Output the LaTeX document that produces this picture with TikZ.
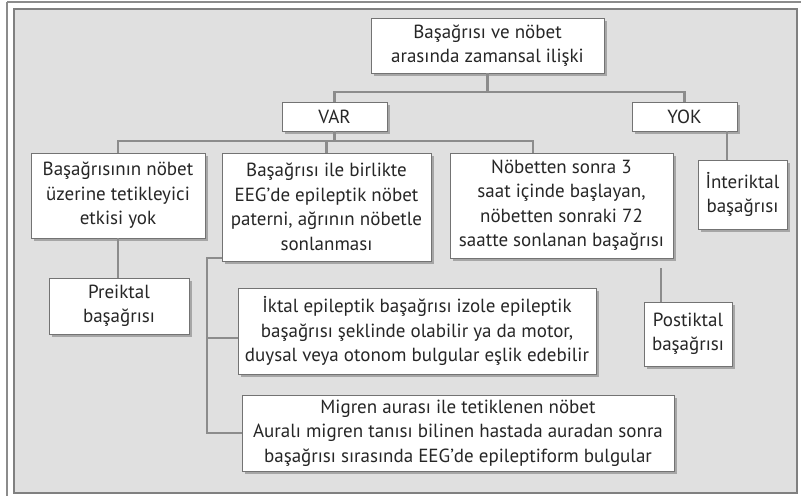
\documentclass[tikz,border=0pt]{standalone}
\usepackage{fontspec}
\setmainfont{PT Sans}
\usetikzlibrary{shadows}
\begin{document}
\begin{tikzpicture}[x=1pt,y=-1pt,
  every node/.style={font=\fontsize{19}{24.5}\selectfont,text=black!85},
  box/.style={draw=black!55,line width=0.8pt,fill=white,align=center,inner sep=0pt,
    drop shadow={shadow xshift=3pt,shadow yshift=-3pt,fill=black!35,opacity=1}},
  link/.style={draw=black!45,line width=2.4pt}]
% frame and background
\useasboundingbox (0,0) rectangle (801,496);
\draw[black!45,line width=2pt] (7,2) -- (801,2);
\draw[black!45,line width=2pt] (7,2) -- (7,496);
\draw[black!50,fill=black!12,line width=1.6pt] (14,9) rectangle (797,493);

% boxes
\node[box,minimum width=233,minimum height=55] (top) at (487.5,45.5) {Başağrısı ve nöbet\\arasında zamansal ilişki};
\node[box,minimum width=105,minimum height=29] (var) at (334.5,116.5) {VAR};
\node[box,minimum width=105,minimum height=29] (yok) at (684.5,116.5) {YOK};
\node[box,minimum width=174,minimum height=85] (b1) at (118,195.5) {Başağrısının nöbet\\üzerine tetikleyici\\etkisi yok};
\node[box,minimum width=209,minimum height=108] (b2) at (326.5,207) {Başağrısı ile birlikte\\EEG’de epileptik nöbet\\paterni, ağrının nöbetle\\sonlanması};
\node[box,minimum width=223,minimum height=105] (b3) at (561.5,205.5) {Nöbetten sonra 3\\saat içinde başlayan,\\nöbetten sonraki 72\\saatte sonlanan başağrısı};
\node[box,minimum width=89,minimum height=69] (inter) at (742.5,194.5) {İnteriktal\\başağrısı};
\node[box,minimum width=140,minimum height=56] (pre) at (119,306) {Preiktal\\başağrısı};
\node[box,minimum width=358,minimum height=86] (ikt) at (417,331) {İktal epileptik başağrısı izole epileptik\\başağrısı şeklinde olabilir ya da motor,\\duysal veya otonom bulgular eşlik edebilir};
\node[box,minimum width=432,minimum height=76] (mig) at (458,433) {Migren aurası ile tetiklenen nöbet\\Auralı migren tanısı bilinen hastada auradan sonra\\başağrısı sırasında EEG’de epileptiform bulgular};
\node[box,minimum width=88,minimum height=64] (post) at (688,334) {Postiktal\\başağrısı};

% connectors
\coordinate (j1) at (487.5,92);
\coordinate (j2) at (334.5,141);
\coordinate (j3) at (207,258);
\coordinate (j4) at (661,268);
\draw[link] (top.south) -- (j1);
\draw[link] (var.north) |- (j1) -| (yok.north);
\draw[link] (var.south) -- (j2);
\draw[link] (b1.north) |- (j2) -| ([xshift=-28.5pt]b3.north);
\draw[link] (j2) -| (b2.north);
\draw[link] ([xshift=-15.5pt]inter.north) -- ([xshift=-15.5pt]inter.north |- yok.south);
\draw[link] (b1.south) -- (b1.south |- pre.north);
\draw[link] (j3 -| b2.west) -- (j3) |- (mig.west);
\draw[link] (j3 |- 0,338) -- (ikt.west |- 0,338);
\draw[link] (j4) -- (j4 |- post.north);
\end{tikzpicture}
\end{document}
